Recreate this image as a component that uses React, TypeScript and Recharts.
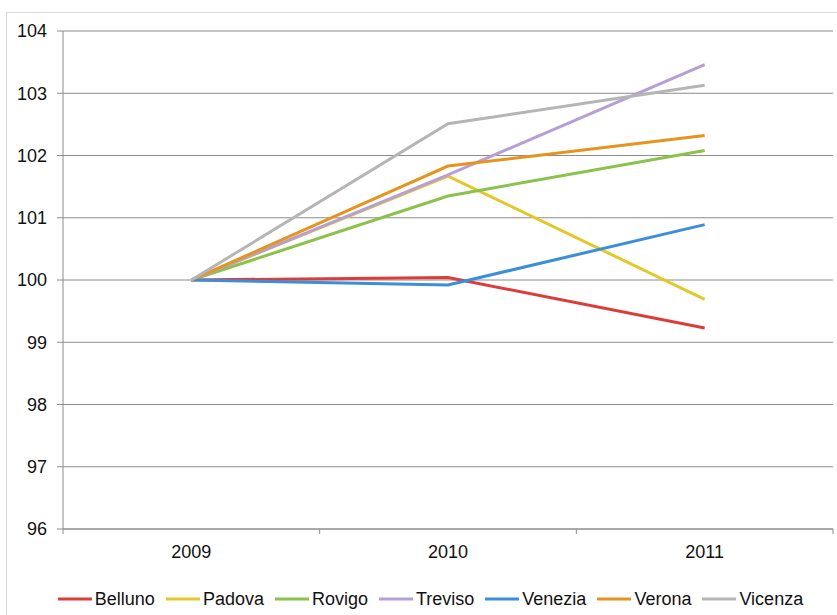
import React from "react";
import { LineChart, Line, XAxis, YAxis, CartesianGrid, Legend } from "recharts";

const years = ["2009", "2010", "2011"];
const belluno = [100, 100.04, 99.23];
const padova = [100, 101.67, 99.69];
const rovigo = [100, 101.35, 102.08];
const treviso = [100, 101.69, 103.46];
const venezia = [100, 99.92, 100.89];
const verona = [100, 101.83, 102.32];
const vicenza = [100, 102.51, 103.13];
const yTicks = [96, 97, 98, 99, 100, 101, 102, 103, 104];

const seriesDefs = [
  { key: "Belluno", values: belluno, color: "#DC3D3A" },
  { key: "Padova", values: padova, color: "#E2C929" },
  { key: "Rovigo", values: rovigo, color: "#8BC24C" },
  { key: "Treviso", values: treviso, color: "#B69FD6" },
  { key: "Venezia", values: venezia, color: "#3A8EDA" },
  { key: "Verona", values: verona, color: "#E5951E" },
  { key: "Vicenza", values: vicenza, color: "#B5B5B5" },
];

const data = years.map((y, i) => {
  const row: Record<string, string | number> = { year: y };
  seriesDefs.forEach((s) => {
    row[s.key] = s.values[i];
  });
  return row;
});

const FONT = "'Liberation Sans', Arial, sans-serif";
const FS = 18;
const AXIS = "#8c8c8c";

const LegendContent = () => (
  <div
    style={{
      display: "flex",
      justifyContent: "center",
      alignItems: "center",
      height: 24,
      fontFamily: FONT,
      fontSize: FS,
      color: "#111",
      paddingLeft: 28,
    }}
  >
    {seriesDefs.map((s, i) => (
      <div
        key={s.key}
        style={{ display: "flex", alignItems: "center", marginRight: i === seriesDefs.length - 1 ? 0 : 11 }}
      >
        <svg width={34} height={6} style={{ marginRight: 3 }}>
          <line x1={0} y1={3} x2={34} y2={3} stroke={s.color} strokeWidth={3} />
        </svg>
        <span>{s.key}</span>
      </div>
    ))}
  </div>
);

const CategoryTick = (props: any) => {
  const { x, y, payload, width, visibleTicksCount, index } = props;
  const band = width / visibleTicksCount;
  const left = x - band / 2;
  const right = x + band / 2;
  const axisY = y - 16;
  return (
    <g>
      <line x1={left} y1={axisY} x2={left} y2={axisY + 5} stroke={AXIS} />
      {index === visibleTicksCount - 1 ? (
        <line x1={right} y1={axisY} x2={right} y2={axisY + 5} stroke={AXIS} />
      ) : null}
      <text
        x={x}
        y={y}
        dy="0.71em"
        textAnchor="middle"
        fill="#111"
        fontSize={FS}
        fontFamily={FONT}
      >
        {payload.value}
      </text>
    </g>
  );
};

export default function App() {
  return (
    <div style={{ position: "absolute", left: 0, top: 0, width: 837, height: 615, background: "#fff", overflow: "hidden" }}>
      <div
        style={{
          position: "absolute",
          left: 6,
          top: 12,
          width: 840,
          height: 620,
          border: "1px solid #d9d9d9",
          boxSizing: "border-box",
        }}
      />
      <LineChart
        width={837}
        height={615}
        data={data}
        margin={{ top: 31, right: 4, left: 0, bottom: 4 }}
        style={{ position: "absolute", left: 0, top: 0 }}
      >
        <CartesianGrid vertical={false} stroke={AXIS} strokeWidth={1} />
        <XAxis
          dataKey="year"
          scale="band"
          tickLine={false}
          axisLine={{ stroke: AXIS }}
          tickSize={6}
          tickMargin={10}
          height={58}
          interval={0}
          tick={CategoryTick}
        />
        <YAxis
          domain={[96, 104]}
          ticks={yTicks}
          width={63}
          tickSize={6}
          tickMargin={10}
          interval={0}
          axisLine={{ stroke: AXIS }}
          tickLine={{ stroke: AXIS }}
          tick={{ fill: "#111", fontSize: FS, fontFamily: FONT }}
        />
        <Legend verticalAlign="bottom" content={LegendContent} />
        {seriesDefs.map((s) => (
          <Line
            key={s.key}
            dataKey={s.key}
            stroke={s.color}
            strokeWidth={3}
            dot={false}
            activeDot={false}
            isAnimationActive={false}
          />
        ))}
      </LineChart>
    </div>
  );
}
